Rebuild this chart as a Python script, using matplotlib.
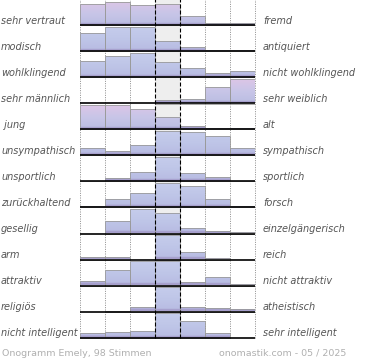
import numpy as np
import matplotlib
matplotlib.use("Agg")
import matplotlib.pyplot as plt
from matplotlib.colors import to_rgb
from matplotlib.patches import Rectangle
from matplotlib.transforms import blended_transform_factory

# ---------------- data ----------------
left_labels = ["sehr vertraut", "modisch", "wohlklingend", "sehr männlich", " jung",
               "unsympathisch", "unsportlich", "zurückhaltend", "gesellig", "arm",
               "attraktiv", "religiös", "nicht intelligent"]
right_labels = ["fremd", "antiquiert", "nicht wohlklingend", "sehr weiblich", "alt",
                "sympathisch", "sportlich", "forsch", "einzelgängerisch", "reich",
                "nicht attraktiv", "atheistisch", "sehr intelligent"]
# relative bar heights (percent of row height), 7 answer steps per row
values = [
    [89, 97, 81, 89, 40, 9, 9],
    [76, 100, 100, 44, 18, 8, 8],
    [67, 87, 100, 63, 39, 17, 27],
    [0, 0, 0, 14, 20, 66, 100],
    [100, 100, 81, 49, 13, 7, 7],
    [31, 17, 41, 100, 97, 77, 31],
    [3, 13, 40, 100, 33, 17, 4],
    [6, 33, 57, 100, 87, 33, 8],
    [0, 49, 100, 84, 24, 9, 7],
    [9, 9, 0, 100, 31, 7, 0],
    [17, 63, 100, 100, 13, 36, 7],
    [0, 4, 17, 100, 17, 15, 9],
    [17, 24, 28, 100, 65, 17, 0],
]
footer_left = "Onogramm Emely, 98 Stimmen"
footer_right = "onomastik.com - 05 / 2025"

# style: rows drawn with the pinkish gradient
pink_rows = [0, 3, 4]

# ---------------- layout ----------------
W, H = 370, 360
fig = plt.figure(figsize=(W / 100, H / 100), dpi=100)
n_rows = len(values)
n_cols = len(values[0])
unit = 26.0
ax_left_px, ax_right_px = 80, 255
base_px = 337.5
ylim = (-0.1, n_rows)
top_px = base_px - n_rows * unit
bottom_px = base_px + 0.1 * unit
ax = fig.add_axes([ax_left_px / W, 1 - bottom_px / H,
                   (ax_right_px - ax_left_px) / W, (bottom_px - top_px) / H])
ax.axis("off")

# middle column background
ax.add_patch(Rectangle((3, 0), 1, n_rows, facecolor="#eeeeee", edgecolor="none", zorder=0))

# dotted grid
for x in [0, 1, 2, 5, 6, 7]:
    ax.plot([x, x], [0, n_rows], color="#8a8a8a", lw=0.7, ls=(0, (1, 1.4)),
            zorder=1, clip_on=False)


def make_grad(stops, n=100):
    pos = np.array([s[0] for s in stops])
    cols = np.array([to_rgb(s[1]) for s in stops])
    t = np.linspace(0, 1, n)
    img = np.zeros((n, 1, 3))
    for c in range(3):
        img[:, 0, c] = np.interp(t, pos, cols[:, c])
    return img


band = "#a69fcc"
grad_pink = make_grad([(0, band), (0.07, band), (0.09, "#bdbfe3"),
                       (0.5, "#c9c6e8"), (1.0, "#dec5e6")])
grad_blue = make_grad([(0, band), (0.07, band), (0.09, "#b9bde3"),
                       (0.5, "#bfc6e8"), (1.0, "#c6cdec")])

row_h = 0.95
for k, row in enumerate(values):
    base = n_rows - 1 - k
    grad = grad_pink if k in pink_rows else grad_blue
    for j, v in enumerate(row):
        if v <= 0:
            continue
        h = v / 100 * row_h
        rect = ax.bar(j + 0.5, h, width=1, bottom=base, facecolor="none",
                      edgecolor="#9a9a9a", lw=0.6, zorder=3)[0]
        im = ax.imshow(grad, extent=(j, j + 1, base, base + row_h), origin="lower",
                       aspect="auto", interpolation="bilinear", zorder=2)
        im.set_clip_path(rect)
    ax.plot([0, n_cols], [base, base], color="black", lw=1.2, zorder=4,
            clip_on=False, solid_capstyle="butt")

# dashed middle lines
for x in [3, 4]:
    ax.plot([x, x], [0, n_rows], color="black", lw=0.8, ls=(0, (3.6, 1.8)),
            zorder=5, clip_on=False)

ax.set_xlim(0, n_cols)
ax.set_ylim(*ylim)

# labels
trans = blended_transform_factory(fig.transFigure, ax.transData)
for k in range(n_rows):
    base = n_rows - 1 - k
    ax.text(1 / W, base + 1.2 / unit, left_labels[k], transform=trans, ha="left",
            va="baseline", fontsize=7, style="italic", color="#555555")
    ax.text(263 / W, base + 1.2 / unit, right_labels[k], transform=trans, ha="left",
            va="baseline", fontsize=7, style="italic", color="#555555")

fig.text(2 / W, 1 - 353 / H, footer_left, ha="left", va="center", fontsize=6.8,
         color="#b0b0b0")
fig.text(346 / W, 1 - 353 / H, footer_right, ha="right", va="center", fontsize=6.8,
         color="#b0b0b0")

fig.savefig("out.png", dpi=100)
